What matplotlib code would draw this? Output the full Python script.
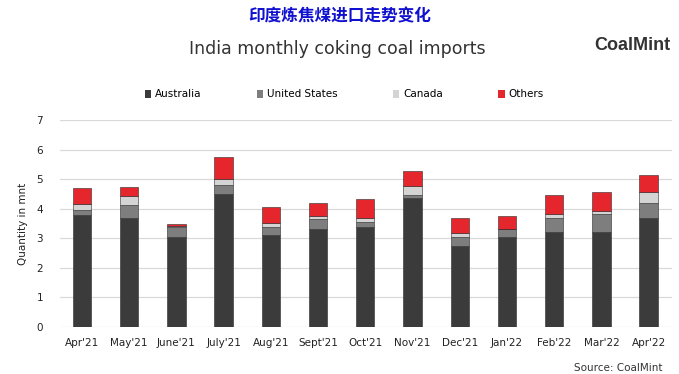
import numpy as np
import matplotlib.pyplot as plt
from matplotlib.patches import Patch

months = ["Apr'21", "May'21", "June'21", "July'21", "Aug'21", "Sept'21", "Oct'21",
          "Nov'21", "Dec'21", "Jan'22", "Feb'22", "Mar'22", "Apr'22"]
australia = [3.79, 3.69, 3.03, 4.50, 3.11, 3.32, 3.37, 4.37, 2.75, 3.03, 3.23, 3.23, 3.69]
united_states = [0.17, 0.43, 0.34, 0.30, 0.26, 0.33, 0.19, 0.09, 0.30, 0.28, 0.44, 0.60, 0.52]
canada = [0.20, 0.32, 0.03, 0.19, 0.14, 0.10, 0.13, 0.31, 0.13, 0.02, 0.15, 0.09, 0.36]
others = [0.54, 0.30, 0.09, 0.75, 0.55, 0.46, 0.63, 0.52, 0.49, 0.41, 0.65, 0.66, 0.58]

series = [("Australia", australia, "#3b3b3b"),
          ("United States", united_states, "#7e7e7e"),
          ("Canada", canada, "#d4d4d4"),
          ("Others", others, "#e5262d")]

plt.rcParams['font.family'] = ['DejaVu Sans']
fig = plt.figure(figsize=(6.79, 3.74), dpi=100)
ax = fig.add_axes([0.088, 0.1257, 0.902, 0.5533])

x = np.arange(len(months))
bottom = np.zeros(len(months))
for name, vals, col in series:
    ax.bar(x, vals, width=0.39, bottom=bottom, color=col, edgecolor='#2a2a2a',
           linewidth=0.4, zorder=3)
    bottom += np.array(vals)

ax.set_ylim(0, 7)
ax.set_xlim(-0.47, 12.5)
ax.set_yticks(range(8))
ax.set_xticks(x)
ax.set_xticklabels(months, fontsize=7.5, color='#222222')
ax.tick_params(axis='y', labelsize=7.5, colors='#222222', length=0, pad=12)
ax.tick_params(axis='x', length=0, pad=8)
ax.grid(axis='y', color='#d9d9d9', linewidth=0.9, zorder=0)
for s in ax.spines.values():
    s.set_visible(False)
ax.set_ylabel('Quantity in mnt', fontsize=7.5, color='#222222', labelpad=6)

fig.text(0.5, 0.955, '印度炼焦煤进口走势变化', ha='center', va='center',
         fontsize=12, color='#1010d0', fontweight='bold',
         family=['Noto Sans CJK SC', 'DejaVu Sans'])
fig.text(0.497, 0.868, 'India monthly coking coal imports', ha='center', va='center',
         fontsize=12.5, color='#333333')
fig.text(0.987, 0.878, 'CoalMint', ha='right', va='center', fontsize=13,
         fontweight='bold', color='#333333', family=['Liberation Sans'])
fig.text(0.975, 0.004, 'Source: CoalMint', ha='right', va='bottom', fontsize=7.5,
         color='#333333')

handles = [Patch(facecolor=col, label=name) for name, _, col in series]
fig.legend(handles=handles, loc='center', bbox_to_anchor=(0.507, 0.748), ncol=4,
           frameon=False, fontsize=7.5, handlelength=0.6, handleheight=0.8,
           handletextpad=0.4, columnspacing=5.3)

fig.savefig('out.png', dpi=100)
